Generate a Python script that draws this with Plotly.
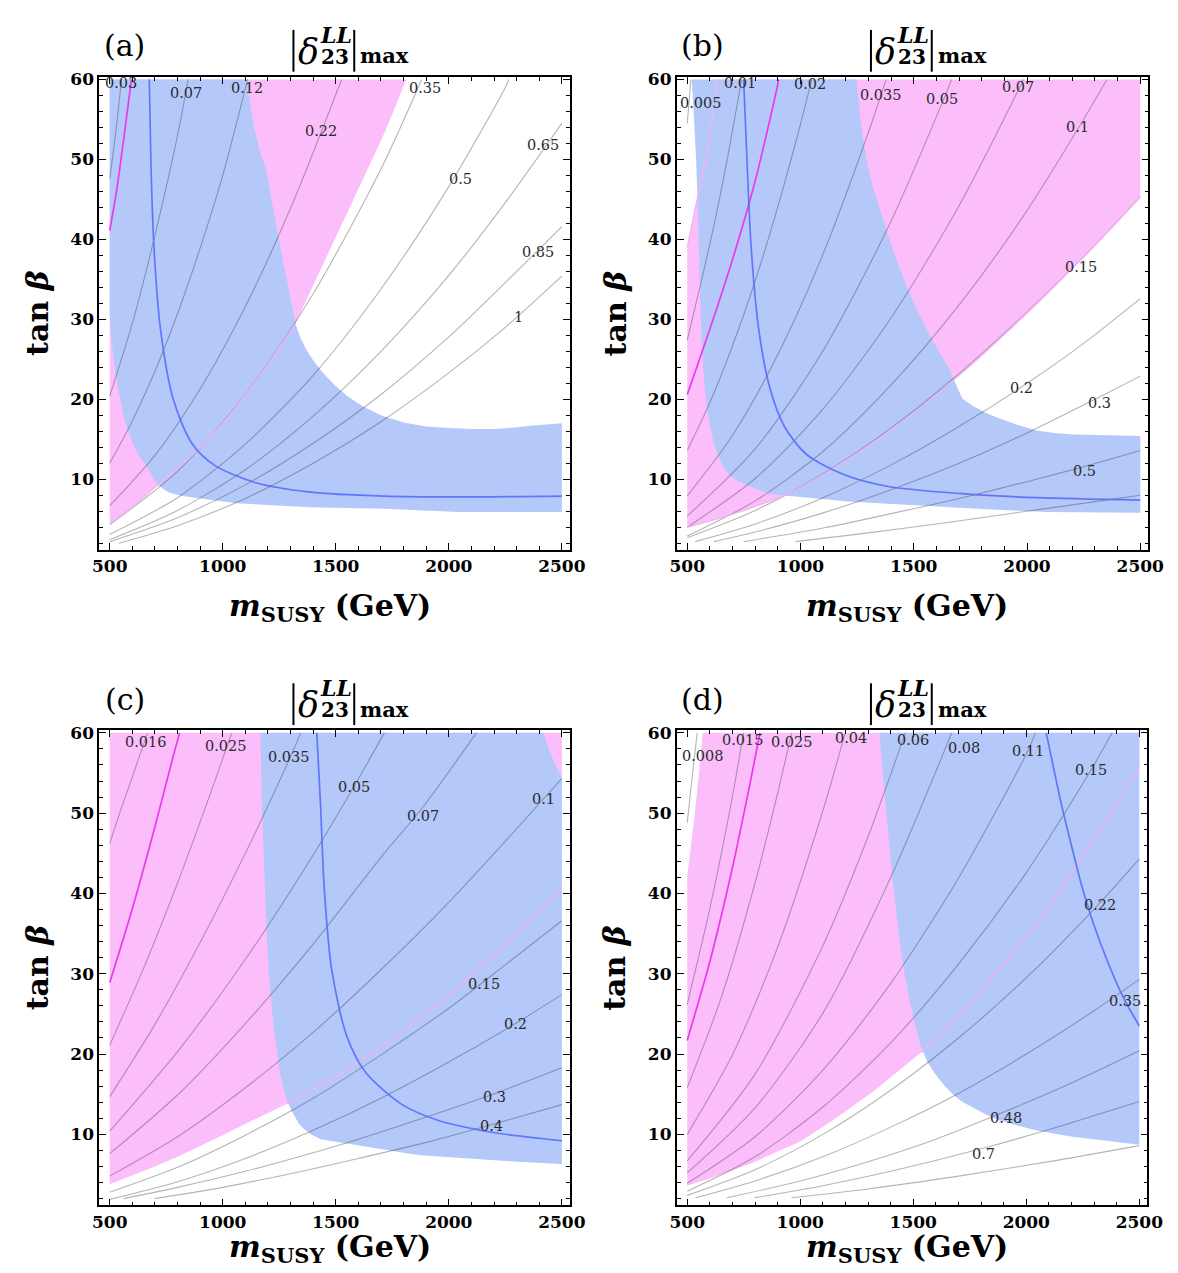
import plotly.graph_objects as go

# ---------------- data ----------------
# Panel (a)
A_PINK = [(500, 4.5), (600, 6.5), (700, 9.0), (850, 12.6), (1000, 17.0), (1160, 22.8), (1322, 29.5),
          (1420, 35.5), (1520, 41.5), (1620, 47.5), (1720, 53.6), (1812, 60), (500, 60)]
A_PINK_EDGE = [(500, 4.5), (600, 6.5), (700, 9.0), (850, 12.6), (1000, 17.0), (1160, 22.8), (1322, 29.5)]
A_BLUE = [(500, 60), (1112, 60), (1116, 58), (1126, 56), (1140, 53.8), (1162, 51.2), (1191, 48.8),
          (1208, 46.3), (1223, 43.8), (1240, 41.3), (1256, 38.9), (1273, 36.4), (1289, 33.9),
          (1305, 31.6), (1322, 29.4), (1345, 27.6), (1370, 26.2), (1400, 24.9), (1440, 23.4),
          (1490, 21.9), (1550, 20.4), (1620, 19.1), (1700, 18.0), (1800, 17.1), (1900, 16.6),
          (2000, 16.4), (2100, 16.3), (2200, 16.3), (2300, 16.5), (2400, 16.8), (2500, 17.0),
          (2500, 5.9), (2042, 5.9), (1714, 6.3), (1387, 6.5), (1060, 7.0), (896, 7.6), (820, 7.9),
          (765, 8.3), (735, 8.8), (708, 9.5), (690, 10.3), (667, 11.5), (643, 12.4), (618, 13.5),
          (592, 15.2), (569, 17.0), (552, 19.1), (536, 21.4), (522, 23.8), (511, 26.4), (504, 28.5),
          (500, 30.9)]
A_BLUELINE = [(675, 60), (683, 48.8), (696, 38.9), (724, 28.9), (781, 20.0), (863, 14.5), (961, 11.8),
              (1142, 9.6), (1387, 8.4), (1714, 7.9), (2042, 7.8), (2500, 7.9)]
A_MAG = [(500, 41.1), (530, 46.0), (565, 53.2), (596, 60)]
A_C003 = [(500, 47.6), (526, 53.2), (552, 60)]
A_C007 = [(500, 20.4), (600, 29.5), (700, 40.5), (800, 53), (847, 60)]
A_C012 = [(500, 12.0), (600, 17.3), (700, 23.5), (800, 30.7), (900, 38.9), (1000, 48), (1110, 60)]
A_C022 = [(500, 6.7), (700, 13), (900, 21.3), (1100, 31.6), (1300, 43.9), (1526, 60)]
A_C035 = [(500, 4.3), (800, 11), (1100, 20.6), (1400, 33.2), (1700, 48.8), (1880, 60)]
A_C05 = [(500, 3.1), (800, 7.7), (1100, 14.4), (1400, 23), (1700, 33.8), (2000, 46.6), (2250, 59), (2265, 60)]
A_C065 = [(500, 2.45), (800, 6.1), (1100, 11.2), (1400, 17.9), (1700, 26), (2000, 35.5), (2250, 44.6), (2500, 54.5)]
A_C085 = [(500, 2.2), (800, 5.2), (1100, 9.3), (1400, 14.5), (1700, 20.6), (2000, 27.8), (2250, 34.6), (2500, 41.6)]
A_C1 = [(540, 2.0), (800, 4.2), (1100, 7.6), (1400, 12), (1700, 17.2), (2000, 23.3), (2250, 29), (2500, 35.4)]
A_LABELS = ["0.03", "0.07", "0.12", "0.22", "0.35", "0.5", "0.65", "0.85", "1"]
A_LABEL_XY = [(552, 59.6), (839, 58.3), (1109, 58.9), (1436, 53.5), (1894, 58.9), (2050, 47.6),
              (2418, 51.8), (2394, 38.4), (2307, 30.3)]

# Panel (b)
B_PINK = [(500, 39), (540, 44.5), (583, 50.1), (610, 55), (633, 60), (2500, 60), (2500, 45.3),
          (2250, 37.8), (2000, 30.8), (1700, 23.0), (1400, 16.2), (1100, 10.6), (945, 8.2), (800, 6.6),
          (650, 5.2), (500, 4.0)]
B_PINK_EDGE_UL = [(500, 39), (540, 44.5), (583, 50.1), (610, 55), (633, 60)]
B_PINK_EDGE_LR = [(500, 4.0), (650, 5.2), (800, 6.6), (945, 8.2), (1100, 10.6), (1400, 16.2), (1700, 23.0),
                  (2000, 30.8), (2250, 37.8), (2500, 45.3)]
B_BLUE = [(520, 60), (1248, 60), (1256, 57.5), (1264, 55), (1280, 52), (1297, 49.1), (1320, 46.5),
          (1346, 44.1), (1374, 41.6), (1403, 39.1), (1435, 36.6), (1469, 34.1), (1508, 31.6),
          (1551, 29.1), (1598, 26.6), (1649, 24.2), (1675, 22.6), (1698, 21.1), (1714, 20.1),
          (1760, 19.2), (1820, 18.3), (1878, 17.6), (1960, 16.8), (2042, 16.1), (2120, 15.8),
          (2205, 15.6), (2350, 15.5), (2500, 15.4), (2500, 5.8), (2091, 5.9), (1714, 6.4), (1551, 6.7),
          (1223, 7.2), (978, 7.8), (920, 8.0), (863, 8.2), (810, 8.7), (765, 9.2), (720, 9.8),
          (683, 10.6), (656, 11.8), (634, 13.1), (616, 14.7), (601, 16.6), (588, 18.8), (577, 21.6),
          (568, 25), (561, 29), (556, 34), (552, 39), (546, 44.5), (539, 50), (530, 55)]
B_BLUELINE = [(749, 60), (765, 49), (782, 39.1), (814, 29.1), (863, 21.6), (929, 16.6), (1027, 13.1),
              (1191, 10.6), (1387, 9.1), (1714, 8.2), (2042, 7.7), (2500, 7.4)]
B_MAG = [(500, 20.6), (600, 28.8), (700, 37.5), (800, 47.3), (900, 59.4), (904, 60)]
B_C0005 = [(500, 54.5), (508, 57.2), (516, 60)]
B_C001 = [(500, 27.4), (560, 34.5), (620, 42), (677, 50.1), (734, 59), (740, 60)]
B_C002 = [(500, 13.6), (600, 19.6), (700, 26.7), (800, 34.8), (900, 44.1), (1000, 54.4), (1050, 60)]
B_C0035 = [(500, 7.9), (700, 15.5), (900, 25.6), (1100, 38.2), (1300, 53.4), (1378, 60)]
B_C005 = [(500, 5.4), (800, 13.8), (1100, 26.1), (1400, 42.3), (1620, 56.7), (1667, 60)]
B_C007 = [(500, 4.0), (800, 10.1), (1100, 18.8), (1400, 30.2), (1700, 44.2), (1985, 60)]
B_C01 = [(500, 2.9), (800, 7.3), (1100, 13.5), (1400, 21.8), (1700, 31.8), (2000, 43.6), (2222, 53.7), (2353, 60)]
B_C015 = [(500, 2.7), (800, 6.1), (1100, 10.7), (1400, 16.4), (1700, 23.2), (2000, 30.9), (2250, 37.8), (2500, 45.3)]
B_C02 = [(536, 2.2), (800, 4.4), (1100, 7.7), (1400, 11.8), (1700, 16.6), (2000, 22), (2250, 27), (2500, 32.6)]
B_C03 = [(618, 2.2), (800, 3.4), (1100, 5.8), (1400, 8.7), (1700, 12), (2000, 15.8), (2320, 20.3), (2500, 22.9)]
B_C05 = [(749, 2.2), (1100, 3.9), (1400, 5.7), (1700, 7.6), (2000, 9.7), (2254, 11.6), (2500, 13.6)]
B_C07 = [(978, 2.2), (1300, 3.3), (1600, 4.4), (1900, 5.6), (2200, 6.8), (2500, 8.0)]
B_LABELS = ["0.005", "0.01", "0.02", "0.035", "0.05", "0.07", "0.1", "0.15", "0.2", "0.3", "0.5"]
B_LABEL_XY = [(561, 57.0), (732, 59.5), (1043, 59.4), (1354, 58.0), (1624, 57.5), (1960, 59.0),
              (2222, 54.0), (2238, 36.6), (1976, 21.4), (2320, 19.6), (2254, 11.0)]

# Panel (c)
C_PINK = [(500, 3.8), (600, 4.9), (700, 6.0), (800, 7.2), (900, 8.5), (1000, 9.9), (1100, 11.3),
          (1200, 12.6), (1285, 13.8), (1400, 15.6), (1500, 17.2), (1600, 19.0), (1700, 20.9),
          (1800, 22.9), (1900, 25.1), (2000, 27.4), (2100, 29.8), (2200, 32.3), (2300, 35),
          (2400, 37.7), (2500, 40.6), (2500, 60), (500, 60)]
C_PINK_EDGE = [(1285, 13.8), (1400, 15.6), (1500, 17.2), (1600, 19.0), (1700, 20.9), (1800, 22.9),
               (1900, 25.1), (2000, 27.4), (2100, 29.8), (2200, 32.3), (2300, 35), (2400, 37.7), (2500, 40.6)]
C_BLUE = [(1167, 60), (2418, 60), (2443, 57.9), (2475, 55.8), (2500, 54.6), (2500, 6.3), (2300, 6.6),
          (2122, 6.9), (2000, 7.1), (1876, 7.4), (1800, 7.7), (1712, 8.1), (1630, 8.5), (1548, 8.9),
          (1490, 9.1), (1433, 9.4), (1390, 10.0), (1351, 10.9), (1335, 11.4), (1318, 12.2), (1300, 13.2),
          (1285, 14.2), (1268, 15.8), (1252, 17.8), (1239, 20.1), (1227, 22.8), (1214, 26.5),
          (1203, 30.5), (1194, 35.5), (1186, 40.6), (1179, 45.5), (1173, 50.8), (1170, 55)]
C_BLUELINE = [(1416, 60), (1433, 50.8), (1449, 40.6), (1482, 30.5), (1548, 22.3), (1630, 17.8),
              (1794, 13.7), (1958, 11.7), (2204, 10.2), (2500, 9.2)]
C_MAG = [(500, 28.9), (600, 38.1), (700, 48.3), (780, 57), (809, 60)]
C_C0016 = [(500, 46.2), (550, 50.5), (600, 54.5), (650, 58.6), (668, 60)]
C_C0025 = [(500, 21.1), (650, 30.7), (800, 41.3), (950, 52.8), (1040, 60)]
C_C0035 = [(500, 14.7), (700, 23.7), (900, 33.9), (1100, 45), (1293, 56.6), (1345, 60)]
C_C005 = [(500, 10.4), (800, 20.3), (1100, 31.8), (1400, 44.8), (1580, 53.3), (1715, 60)]
C_C007 = [(500, 7.6), (800, 14.9), (1100, 23.8), (1400, 33.7), (1700, 44.5), (1884, 50.7), (2122, 60)]
C_C01 = [(500, 4.8), (800, 9.7), (1100, 15.8), (1400, 22.7), (1700, 30.5), (2000, 38.9), (2250, 46.5), (2500, 54.3)]
C_C015 = [(500, 2.8), (800, 5.9), (1100, 9.9), (1400, 14.5), (1700, 19.9), (2000, 25.7), (2250, 31.1), (2500, 36.6)]
C_C02 = [(500, 1.9), (800, 4.1), (1100, 7.0), (1400, 10.5), (1700, 14.5), (2000, 19), (2295, 23.8), (2500, 27.4)]
C_C03 = [(562, 2.0), (800, 3.4), (1100, 5.4), (1400, 7.7), (1700, 10.3), (2000, 13.1), (2204, 15.1), (2500, 18.3)]
C_C04 = [(700, 2.0), (1000, 3.4), (1300, 5.1), (1600, 7.0), (1900, 9.0), (2188, 11.2), (2500, 13.7)]
C_LABELS = ["0.016", "0.025", "0.035", "0.05", "0.07", "0.1", "0.15", "0.2", "0.3", "0.4"]
C_LABEL_XY = [(661, 58.8), (1014, 58.4), (1293, 57.0), (1580, 53.3), (1884, 49.7), (2418, 51.8),
              (2155, 28.7), (2295, 23.8), (2204, 14.7), (2188, 11.1)]

# Panel (d)
D_PINK = [(500, 42.2), (530, 49), (550, 54.5), (569, 60), (2500, 60), (2500, 55.7), (2435, 52.8),
          (2369, 49.8), (2290, 46.3), (2205, 42.7), (2125, 39.3), (2042, 36.0), (1960, 33.2),
          (1878, 30.5), (1795, 27.8), (1714, 25.2), (1630, 22.7), (1543, 20.4), (1440, 18.0),
          (1330, 15.5), (1223, 13.3), (1110, 11.1), (1000, 9.1), (900, 7.8), (800, 6.6), (700, 5.5),
          (600, 4.5), (500, 3.6)]
D_PINK_EDGE = [(1534, 20.2), (1630, 22.7), (1714, 25.2), (1795, 27.8), (1878, 30.5), (1960, 33.2),
               (2042, 36.0), (2125, 39.3), (2205, 42.7), (2290, 46.3), (2369, 49.8), (2435, 52.8), (2500, 55.7)]
D_BLUE = [(1351, 60), (2500, 60), (2500, 8.7), (2350, 9.2), (2205, 9.7), (2120, 10.1), (2042, 10.5),
          (1960, 11.1), (1878, 11.8), (1820, 12.5), (1763, 13.3), (1720, 14.0), (1682, 14.8),
          (1640, 16.0), (1600, 17.4), (1565, 18.9), (1534, 20.9), (1508, 23.6), (1485, 26.5),
          (1463, 29.7), (1444, 33.1), (1427, 36.9), (1412, 40.7), (1399, 44.5), (1387, 48.3),
          (1379, 50.8), (1371, 53.4), (1360, 56.5)]
D_BLUELINE = [(2088, 60), (2118, 56), (2152, 51.5), (2195, 46.5), (2245, 41), (2300, 36), (2360, 31.5),
              (2430, 27), (2500, 23.5)]
D_MAG = [(500, 21.7), (600, 31.5), (700, 43.2), (780, 54), (822, 60)]
D_C0008 = [(500, 48.8), (522, 54.5), (544, 60)]
D_C0015 = [(500, 26.2), (600, 38.1), (700, 52.1), (749, 60)]
D_C0025 = [(500, 15.8), (650, 27), (800, 41.3), (900, 52.5), (962, 60)]
D_C004 = [(500, 10.0), (700, 19.9), (900, 33.3), (1100, 50.3), (1199, 60)]
D_C006 = [(500, 6.7), (800, 17.5), (1100, 33.5), (1300, 47.1), (1465, 60)]
D_C008 = [(500, 5.2), (800, 13.3), (1100, 25.1), (1400, 42), (1670, 60)]
D_C011 = [(500, 3.9), (800, 9.7), (1100, 18), (1400, 28.8), (1700, 41.9), (2006, 57.7), (2040, 60)]
D_C015 = [(500, 2.9), (800, 7.2), (1100, 13.4), (1400, 21.4), (1700, 31.2), (2000, 42.6), (2287, 55.4), (2380, 60)]
D_C022 = [(500, 2.4), (800, 5.6), (1100, 10.0), (1400, 15.5), (1700, 22), (2000, 29.5), (2328, 38.9), (2500, 44.3)]
D_C035 = [(536, 2.1), (800, 4.2), (1100, 7.2), (1400, 10.9), (1700, 15.1), (2000, 20), (2300, 25.4), (2500, 29.3)]
D_C048 = [(675, 2.1), (1000, 4.2), (1300, 6.6), (1600, 9.4), (1911, 12.9), (2200, 16.4), (2500, 20.4)]
D_C07 = [(798, 2.1), (1100, 3.6), (1400, 5.4), (1813, 8.3), (2100, 10.6), (2500, 14.1)]
D_C1 = [(961, 2.1), (1300, 3.2), (1700, 4.8), (2100, 6.6), (2500, 8.6)]
D_LABELS = ["0.008", "0.015", "0.025", "0.04", "0.06", "0.08", "0.11", "0.15", "0.22", "0.35", "0.48", "0.7"]
D_LABEL_XY = [(569, 57.1), (745, 59.1), (962, 58.9), (1223, 59.4), (1498, 59.1), (1723, 58.1), (2006, 57.7),
              (2287, 55.4), (2328, 38.6), (2438, 26.6), (1911, 12.0), (1809, 7.5)]

PANEL_TAGS = ["(a)", "(b)", "(c)", "(d)"]
X_TICKS = [500, 1000, 1500, 2000, 2500]
Y_TICKS = [10, 20, 30, 40, 50, 60]

# ---------------- styling ----------------
W, H = 1178, 1273
PINK = "rgb(251,190,251)"
BLUE = "rgb(180,200,250)"
GRAY = "rgba(50,50,60,0.36)"
MAGENTA = "rgb(232,60,232)"
PINKLINE = "rgb(242,178,242)"
BLUELINE = "rgba(85,110,250,0.9)"
SERIF = "DejaVu Serif"

# pixel boxes of the four frames: left, right, top, bottom
BOXES = [(86, 566, 62, 538), (675, 1156, 62, 538), (86, 566, 719, 1197), (675, 1155, 719, 1197)]
OFFS = [(0, 0), (589, 0), (0, 657), (589, 657)]

panels = [
    dict(pink=A_PINK, blue=A_BLUE, edges=[A_PINK_EDGE], blueline=A_BLUELINE, mag=A_MAG,
         contours=[A_C003, A_C007, A_C012, A_C022, A_C035, A_C05, A_C065, A_C085, A_C1],
         labels=A_LABELS, label_xy=A_LABEL_XY),
    dict(pink=B_PINK, blue=B_BLUE, edges=[B_PINK_EDGE_UL, B_PINK_EDGE_LR], blueline=B_BLUELINE, mag=B_MAG,
         contours=[B_C0005, B_C001, B_C002, B_C0035, B_C005, B_C007, B_C01, B_C015, B_C02, B_C03, B_C05, B_C07],
         labels=B_LABELS, label_xy=B_LABEL_XY),
    dict(pink=C_PINK, blue=C_BLUE, edges=[C_PINK_EDGE], blueline=C_BLUELINE, mag=C_MAG,
         contours=[C_C0016, C_C0025, C_C0035, C_C005, C_C007, C_C01, C_C015, C_C02, C_C03, C_C04],
         labels=C_LABELS, label_xy=C_LABEL_XY),
    dict(pink=D_PINK, blue=D_BLUE, edges=[D_PINK_EDGE], blueline=D_BLUELINE, mag=D_MAG,
         contours=[D_C0008, D_C0015, D_C0025, D_C004, D_C006, D_C008, D_C011, D_C015, D_C022, D_C035,
                   D_C048, D_C07, D_C1],
         labels=D_LABELS, label_xy=D_LABEL_XY),
]


def xs(pts):
    return [p[0] for p in pts]


def ys(pts):
    return [p[1] for p in pts]


def px(x):
    return x / W


def py(y):
    return 1 - y / H


fig = go.Figure()
annotations = []
shapes = []

for i, p in enumerate(panels):
    n = "" if i == 0 else str(i + 1)
    xa, ya = "x" + n, "y" + n
    # regions
    fig.add_trace(go.Scatter(x=xs(p["pink"]), y=ys(p["pink"]), fill="toself", fillcolor=PINK,
                             mode="lines", line=dict(width=0, color=PINK), xaxis=xa, yaxis=ya,
                             hoverinfo="skip", showlegend=False))
    fig.add_trace(go.Scatter(x=xs(p["blue"]), y=ys(p["blue"]), fill="toself", fillcolor=BLUE,
                             mode="lines", line=dict(width=0, color=BLUE), xaxis=xa, yaxis=ya,
                             hoverinfo="skip", showlegend=False))
    # contour lines
    for c in p["contours"]:
        fig.add_trace(go.Scatter(x=xs(c), y=ys(c), mode="lines",
                                 line=dict(color=GRAY, width=1.1, shape="spline", smoothing=0.8),
                                 xaxis=xa, yaxis=ya, hoverinfo="skip", showlegend=False))
    for e in p["edges"]:
        fig.add_trace(go.Scatter(x=xs(e), y=ys(e), mode="lines",
                                 line=dict(color=PINKLINE, width=1.4, shape="spline", smoothing=0.8),
                                 xaxis=xa, yaxis=ya, hoverinfo="skip", showlegend=False))
    fig.add_trace(go.Scatter(x=xs(p["mag"]), y=ys(p["mag"]), mode="lines",
                             line=dict(color=MAGENTA, width=1.7, shape="spline", smoothing=0.8),
                             xaxis=xa, yaxis=ya, hoverinfo="skip", showlegend=False))
    fig.add_trace(go.Scatter(x=xs(p["blueline"]), y=ys(p["blueline"]), mode="lines",
                             line=dict(color=BLUELINE, width=1.7, shape="spline", smoothing=0.8),
                             xaxis=xa, yaxis=ya, hoverinfo="skip", showlegend=False))
    # contour labels
    for t, (lx, ly) in zip(p["labels"], p["label_xy"]):
        annotations.append(dict(x=lx, y=ly, xref=xa, yref=ya, text=t, showarrow=False,
                                font=dict(family=SERIF, size=14.5, color="#2a2a2a"),
                                xanchor="center", yanchor="middle"))

    l, r, t_, b = BOXES[i]
    axis_common = dict(showline=True, linecolor="black", linewidth=1.8, mirror="allticks",
                       ticks="inside", ticklen=7, tickwidth=1.3, tickcolor="black",
                       showgrid=False, zeroline=False,
                       tickfont=dict(family=SERIF, size=17, color="black", weight="bold"))
    fig.layout["xaxis" + n] = dict(axis_common, domain=[px(l), px(r)], range=[454, 2536],
                                   anchor=ya, tickvals=X_TICKS,
                                   minor=dict(dtick=100, ticks="inside", ticklen=4, tickwidth=1,
                                              tickcolor="black", showgrid=False))
    fig.layout["yaxis" + n] = dict(axis_common, domain=[py(b), py(t_)], range=[1.15, 60.35],
                                   anchor=xa, tickvals=Y_TICKS,
                                   minor=dict(dtick=2, ticks="inside", ticklen=4, tickwidth=1,
                                              tickcolor="black", showgrid=False))

    # titles and axis labels
    dx, dy = OFFS[i]
    annotations.append(dict(x=px(112 + dx), y=py(31 + dy), xref="paper", yref="paper", text=PANEL_TAGS[i],
                            showarrow=False, font=dict(family=SERIF, size=30, color="black"),
                            xanchor="center", yanchor="middle"))
    annotations.append(dict(x=px(299 + dx), y=py(37 + dy), xref="paper", yref="paper", text="<i>δ</i>",
                            showarrow=False, font=dict(family=SERIF, size=35, color="black"),
                            xanchor="center", yanchor="middle"))
    annotations.append(dict(x=px(327 + dx), y=py(20 + dy), xref="paper", yref="paper", text="<b><i>LL</i></b>",
                            showarrow=False, font=dict(family=SERIF, size=22, color="black"),
                            xanchor="center", yanchor="middle"))
    annotations.append(dict(x=px(326 + dx), y=py(42 + dy), xref="paper", yref="paper", text="<b>23</b>",
                            showarrow=False, font=dict(family=SERIF, size=20, color="black"),
                            xanchor="center", yanchor="middle"))
    annotations.append(dict(x=px(350 + dx), y=py(41 + dy), xref="paper", yref="paper", text="<b>max</b>",
                            showarrow=False, font=dict(family=SERIF, size=21, color="black"),
                            xanchor="left", yanchor="middle"))
    for bx in (284, 346):
        shapes.append(dict(type="line", xref="paper", yref="paper", x0=px(bx + dx), x1=px(bx + dx),
                           y0=py(15 + dy), y1=py(57 + dy), line=dict(color="black", width=2)))
    annotations.append(dict(x=px(23 + dx), y=py((t_ + b) / 2), xref="paper", yref="paper",
                            text="<b>tan <i>β</i></b>", textangle=-90, showarrow=False,
                            font=dict(family=SERIF, size=30, color="black"),
                            xanchor="center", yanchor="middle"))
    xl_y = 596 if i < 2 else 1240
    annotations.append(dict(x=px(321 + dx), y=py(xl_y), xref="paper", yref="paper",
                            text="<b><i>m</i><sub>SUSY</sub> (GeV)</b>", showarrow=False,
                            font=dict(family=SERIF, size=30, color="black"),
                            xanchor="center", yanchor="middle"))

fig.update_layout(width=W, height=H, margin=dict(l=0, r=0, t=0, b=0), plot_bgcolor="white",
                  paper_bgcolor="white", showlegend=False, annotations=annotations, shapes=shapes)

fig.write_html("out.html")
